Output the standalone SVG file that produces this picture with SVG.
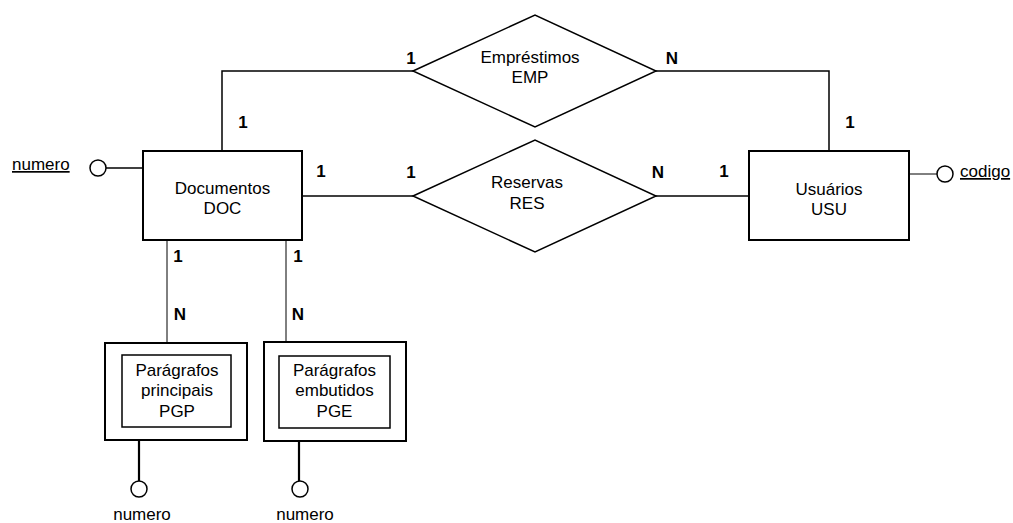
<svg xmlns="http://www.w3.org/2000/svg" width="1013" height="523" viewBox="0 0 1013 523">
<style>
  text { font-family: "Liberation Sans", Arial, sans-serif; font-size: 17px; fill: #000; }
  .c { text-anchor: middle; }
  .lbl { font-weight: bold; text-anchor: middle; }
  .ent { fill: #fff; stroke: #000; stroke-width: 2; }
  .inner { fill: none; stroke: #000; stroke-width: 1.5; }
  .rel { fill: #fff; stroke: #000; stroke-width: 1.5; }
  .ln { fill: none; stroke: #000; stroke-width: 1.5; }
  .thin { fill: none; stroke: #000; stroke-width: 1; }
  .thick { fill: none; stroke: #000; stroke-width: 2.2; }
  .attr { fill: #fff; stroke: #000; stroke-width: 1.5; }
</style>
<rect width="1013" height="523" fill="#fff"/>

<g id="connectors">
  <polyline class="ln" points="222,151 222,71 413,71"/>
  <polyline class="ln" points="656,71 829,71 829,151"/>
  <line class="ln" x1="302" y1="196" x2="413" y2="196"/>
  <line class="ln" x1="656" y1="196" x2="749" y2="196"/>
  <line class="thin" x1="167" y1="240" x2="167" y2="343"/>
  <line class="thin" x1="286" y1="240" x2="286" y2="342"/>
  <line class="ln" x1="106" y1="168" x2="143" y2="168"/>
  <line class="thin" x1="909" y1="174" x2="937" y2="174"/>
  <line class="thick" x1="139" y1="440" x2="139" y2="481"/>
  <line class="thick" x1="299" y1="441" x2="299" y2="481"/>
</g>

<g id="labels">
  <text class="lbl" x="243" y="128">1</text>
  <text class="lbl" x="321" y="177">1</text>
  <text class="lbl" x="411" y="64">1</text>
  <text class="lbl" x="672" y="64">N</text>
  <text class="lbl" x="411" y="178">1</text>
  <text class="lbl" x="658" y="178">N</text>
  <text class="lbl" x="724" y="177">1</text>
  <text class="lbl" x="850" y="128">1</text>
  <text class="lbl" x="178" y="262">1</text>
  <text class="lbl" x="180" y="320">N</text>
  <text class="lbl" x="298" y="262">1</text>
  <text class="lbl" x="298" y="320">N</text>
</g>

<g id="DOC">
  <rect class="ent" x="143" y="151" width="159" height="89"/>
  <text class="c" x="222.5" y="194">Documentos</text>
  <text class="c" x="222.5" y="214">DOC</text>
</g>

<g id="USU">
  <rect class="ent" x="749" y="151" width="160" height="89"/>
  <text class="c" x="829" y="195">Usuários</text>
  <text class="c" x="829" y="215">USU</text>
</g>

<g id="EMP">
  <polygon class="rel" points="413,71 535,15 656,71 535,127"/>
  <text class="c" x="530" y="63">Empréstimos</text>
  <text class="c" x="530" y="83">EMP</text>
</g>

<g id="RES">
  <polygon class="rel" points="413,196 535,140 656,196 535,252"/>
  <text class="c" x="527" y="188">Reservas</text>
  <text class="c" x="527" y="209">RES</text>
</g>

<g id="PGP">
  <rect class="ent" x="105" y="343" width="142" height="97"/>
  <rect class="inner" x="122" y="355" width="109" height="72"/>
  <text class="c" x="177" y="376">Parágrafos</text>
  <text class="c" x="177" y="396">principais</text>
  <text class="c" x="177" y="417">PGP</text>
</g>

<g id="PGE">
  <rect class="ent" x="264" y="342" width="142" height="99"/>
  <rect class="inner" x="279" y="356" width="111" height="72"/>
  <text class="c" x="334.5" y="376">Parágrafos</text>
  <text class="c" x="334.5" y="396">embutidos</text>
  <text class="c" x="334.5" y="417">PGE</text>
</g>

<g id="attr-doc-numero">
  <circle class="attr" cx="98" cy="168" r="8"/>
  <text x="12" y="170" text-decoration="underline">numero</text>
</g>

<g id="attr-usu-codigo">
  <circle class="attr" cx="945" cy="174" r="8"/>
  <text x="960" y="177" text-decoration="underline">codigo</text>
</g>

<g id="attr-pgp-numero">
  <circle class="attr" cx="139" cy="489" r="8"/>
  <text class="c" x="142" y="520">numero</text>
</g>

<g id="attr-pge-numero">
  <circle class="attr" cx="300" cy="489" r="8"/>
  <text class="c" x="305" y="520">numero</text>
</g>
</svg>
